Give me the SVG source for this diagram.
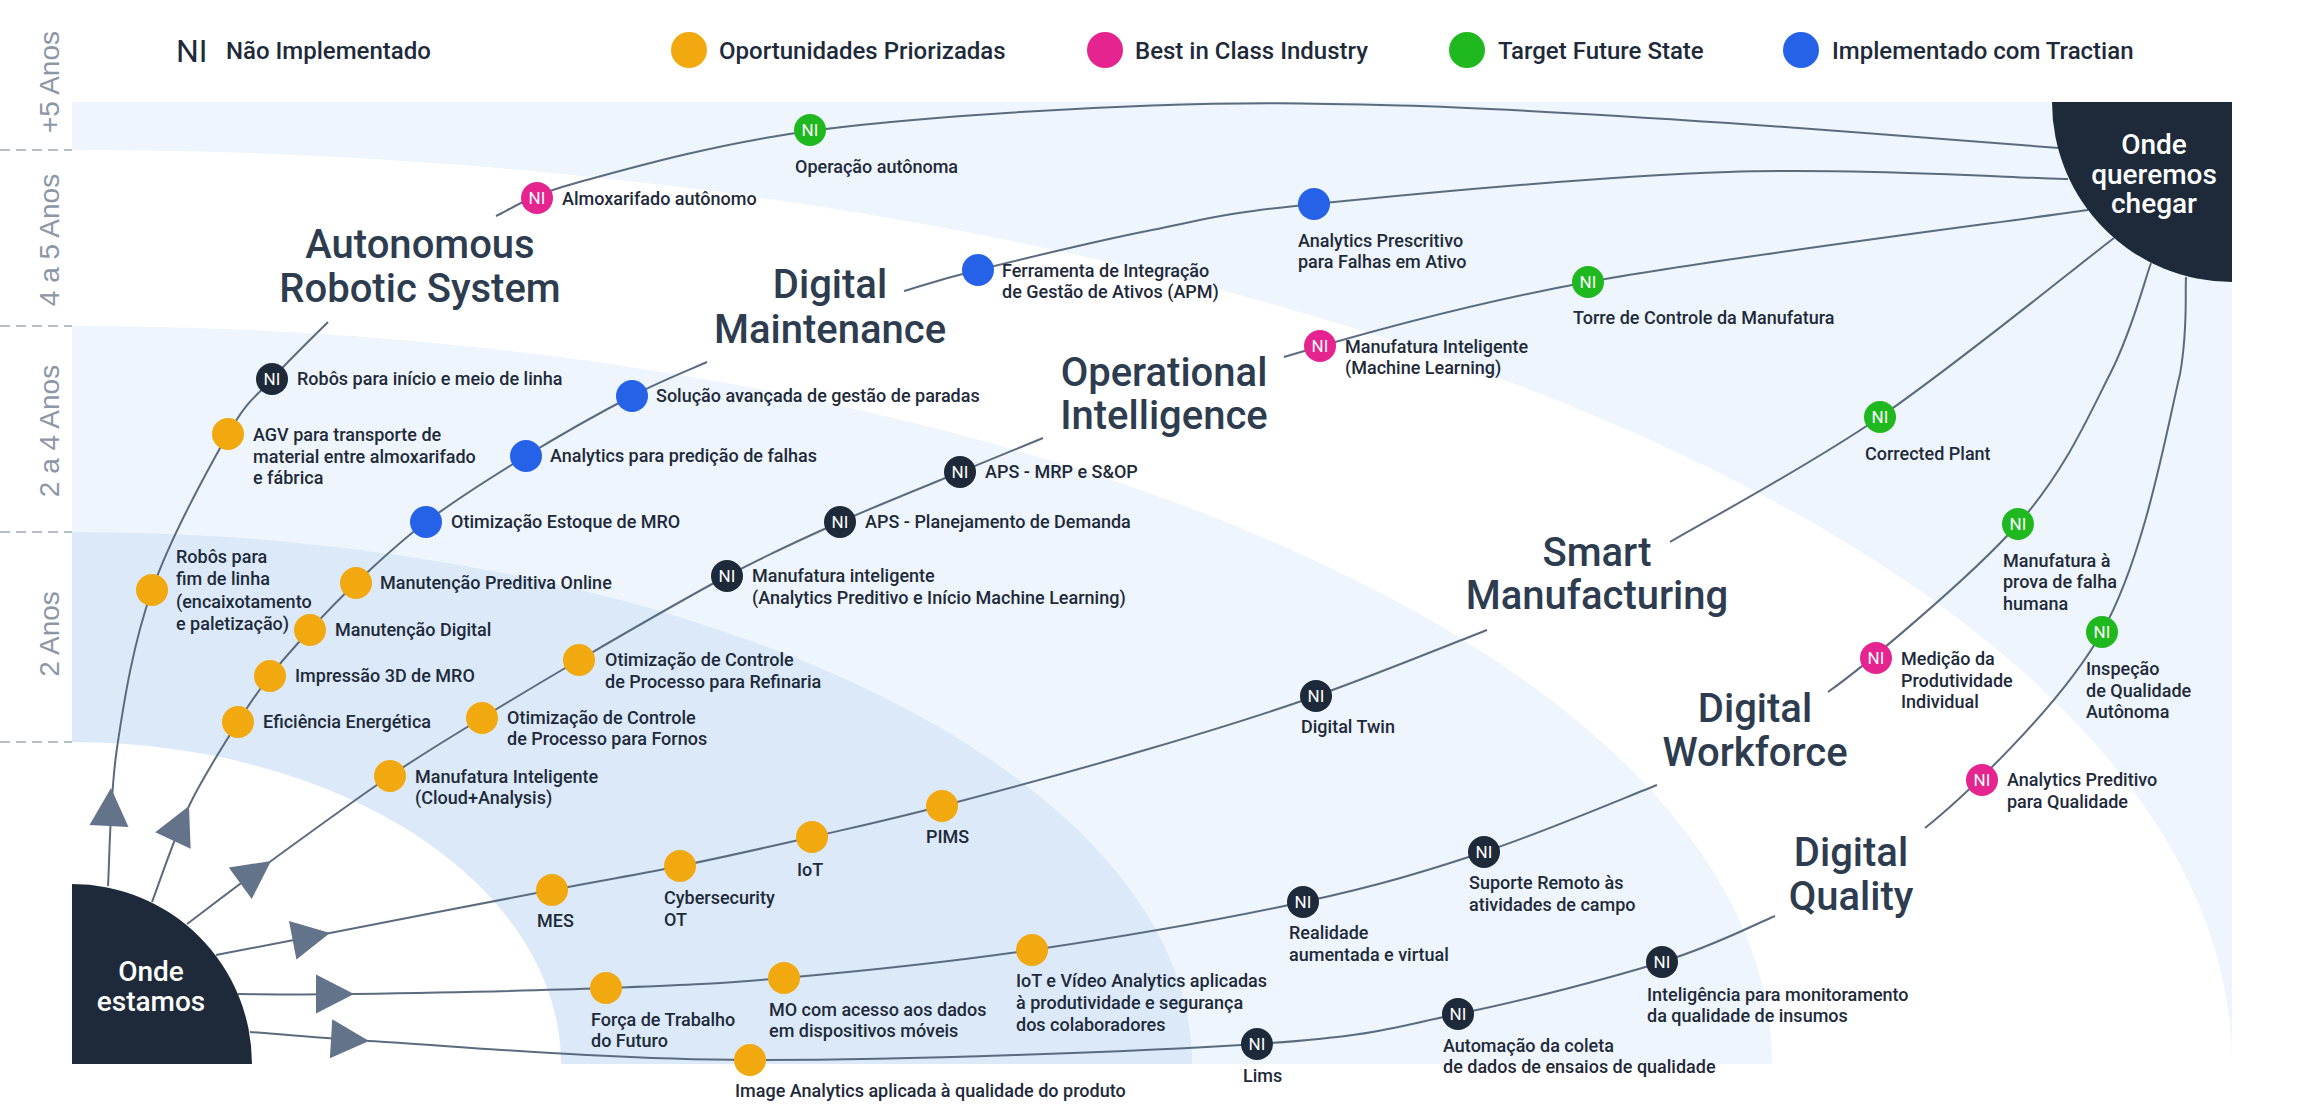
<svg xmlns="http://www.w3.org/2000/svg" width="2304" height="1120" viewBox="0 0 2304 1120">
<style>
text{font-family:Roboto,"Noto Sans","DejaVu Sans",sans-serif}
.lbl{font-size:18px;font-weight:500;fill:#1e2a3a}
.ttl{font-size:40px;font-weight:500;fill:#2e3c4f;text-anchor:middle}
.ni{font-size:17px;font-weight:400;fill:#ffffff;text-anchor:middle}
.leg{font-size:24px;font-weight:500;fill:#1e2a3a}
.axis{font-family:"Liberation Sans",Arial,sans-serif;font-size:28px;fill:#8c97a6;text-anchor:middle}
.pan{font-size:28px;font-weight:500;fill:#ffffff;text-anchor:middle}
.conn{fill:none;stroke:#5b6b7e;stroke-width:2}
.dash{stroke:#a3abb6;stroke-width:1.5;stroke-dasharray:10 6}
.o{fill:#f2a80f}.p{fill:#e5248f}.g{fill:#1fb81e}.b{fill:#2662e8}.d{fill:#1e2a3a}
.arw{fill:#63738a}
</style>
<defs>
<clipPath id="area"><rect x="72" y="102" width="2160" height="962"/></clipPath>
<path id="arw" d="M0,0 L-38,-19.5 L-38,19.5 Z"/>
</defs>
<rect width="2304" height="1120" fill="#ffffff"/>
<g id="background" clip-path="url(#area)">
<rect x="72" y="102" width="2160" height="962" fill="#eef5fc"/>
<ellipse cx="72" cy="1064" rx="2160" ry="914" fill="#ffffff"/>
<ellipse cx="72" cy="1064" rx="1700" ry="738" fill="#eef5fc"/>
<ellipse cx="72" cy="1064" rx="1120" ry="532" fill="#dbe9f9"/>
<ellipse cx="72" cy="1064" rx="489" ry="322" fill="#ffffff"/>
</g>
<g id="axis">
<line class="dash" x1="0" y1="150" x2="72" y2="150"/>
<line class="dash" x1="0" y1="326" x2="72" y2="326"/>
<line class="dash" x1="0" y1="532" x2="72" y2="532"/>
<line class="dash" x1="0" y1="742" x2="72" y2="742"/>
<text class="axis" transform="translate(59,82) rotate(-90)">+5 Anos</text>
<text class="axis" transform="translate(59,240) rotate(-90)">4 a 5 Anos</text>
<text class="axis" transform="translate(59,431) rotate(-90)">2 a 4 Anos</text>
<text class="axis" transform="translate(59,634) rotate(-90)">2 Anos</text>
</g>
<g id="legend">
<text x="176" y="62" style="font-size:32px;font-weight:400;fill:#1e2a3a">NI</text>
<text class="leg" x="226" y="59">Não Implementado</text>
<circle class="o" cx="689" cy="50" r="18"/>
<text class="leg" x="719" y="59">Oportunidades Priorizadas</text>
<circle class="p" cx="1105" cy="50" r="18"/>
<text class="leg" x="1135" y="59">Best in Class Industry</text>
<circle class="g" cx="1467" cy="50" r="18"/>
<text class="leg" x="1498" y="59">Target Future State</text>
<circle class="b" cx="1801" cy="50" r="18"/>
<text class="leg" x="1832" y="59">Implementado com Tractian</text>
</g>
<g id="connectors">
<path class="conn" d="M108,886 C109.5,863 109.7,797.3 117,748 C124.3,698.7 133.5,642.3 152,590 C170.5,537.7 208,469.2 228,434 C248,398.8 255.3,397.7 272,379 C288.7,360.3 318.7,331.5 328,322"/>
<path class="conn" d="M496,216 C509.3,210.5 523.7,197.3 576,183 C628.3,168.7 714,144 810,131 C906,118 1053.7,109 1152,105.5 C1250.3,102 1304,103 1400,105.5 C1496,108 1618.2,115.7 1728,123 C1837.8,130.3 2003.8,143.8 2059,148"/>
<path class="conn" d="M152,902 C158.2,886 174.7,836 189,806 C203.3,776 224.5,743.7 238,722 C251.5,700.3 258,691.3 270,676 C282,660.7 295.7,645.5 310,630 C324.3,614.5 336.7,601 356,583 C375.3,565 397.7,543.2 426,522 C454.3,500.8 491.7,477 526,456 C560.3,435 601.8,411.7 632,396 C662.2,380.3 694.5,367.7 707,362"/>
<path class="conn" d="M904,291 C916.3,287.5 936.7,280.2 978,270 C1019.3,259.8 1096,241 1152,230 C1208,219 1218,213.7 1314,204 C1410,194.3 1602.3,176.2 1728,172 C1853.7,167.8 2011.3,177.8 2068,179"/>
<path class="conn" d="M187,924 C201,913.5 237.2,885.7 271,861 C304.8,836.3 354.8,799.8 390,776 C425.2,752.2 450.5,737.3 482,718 C513.5,698.7 538.2,683.7 579,660 C619.8,636.3 683.5,599 727,576 C770.5,553 801.2,539.3 840,522 C878.8,504.7 926.2,486 960,472 C993.8,458 1029.2,443.7 1043,438"/>
<path class="conn" d="M1284,357 C1334,342 1454,306.5 1588,282 C1722,257.5 2004.7,222 2088,210"/>
<path class="conn" d="M216,955 C235,951.3 274,943.8 330,933 C386,922.2 493.7,901.2 552,890 C610.3,878.8 636.7,874.8 680,866 C723.3,857.2 768.3,847 812,837 C855.7,827 885.3,820.8 942,806 C998.7,791.2 1089.7,766.3 1152,748 C1214.3,729.7 1260.2,715.7 1316,696 C1371.8,676.3 1458.5,641 1487,630"/>
<path class="conn" d="M1670,542 C1705,521.2 1806,467.7 1880,417 C1954,366.3 2075,267.8 2114,238"/>
<path class="conn" d="M238,994 C257.3,994 292.7,995 354,994 C415.3,993 534.3,990.7 606,988 C677.7,985.3 713,984.3 784,978 C855,971.7 945.5,962.7 1032,950 C1118.5,937.3 1227.7,918.3 1303,902 C1378.3,885.7 1425,871.5 1484,852 C1543,832.5 1628.2,796.2 1657,785"/>
<path class="conn" d="M1828,692 C1862,668 1971,577 2018,524 C2065,471 2087.8,417.5 2110,374 C2132.2,330.5 2144.2,281.5 2151,263"/>
<path class="conn" d="M250,1032 C290,1035 330,1039 369,1041 C452.3,1045.7 602,1059.5 750,1060 C898,1060.5 1139,1051.7 1257,1044 C1375,1036.3 1390.5,1027.7 1458,1014 C1525.5,1000.3 1609.2,978.3 1662,962 C1714.8,945.7 1756.2,923.7 1775,916"/>
<path class="conn" d="M1925,828 C1960,800 2059.5,707.7 2102,632 C2144.5,556.3 2166,433.2 2180,374 C2188,330 2185,293.2 2186,277"/>
<use href="#arw" class="arw" transform="translate(111,788) rotate(-87)"/>
<use href="#arw" class="arw" transform="translate(189,806) rotate(-65)"/>
<use href="#arw" class="arw" transform="translate(271,861) rotate(-36)"/>
<use href="#arw" class="arw" transform="translate(330,933) rotate(-11)"/>
<use href="#arw" class="arw" transform="translate(354,994) rotate(0)"/>
<use href="#arw" class="arw" transform="translate(369,1041) rotate(3.5)"/>
</g>
<g id="onde-estamos">
<path class="d" d="M72,884 A180,180 0 0 1 252,1064 L72,1064 Z"/>
<text class="pan" x="151" y="981">Onde</text>
<text class="pan" x="151" y="1011">estamos</text>
</g>
<g id="onde-queremos-chegar">
<path class="d" d="M2052,102 A180,180 0 0 0 2232,282 L2232,102 Z"/>
<text class="pan" x="2154" y="154">Onde</text>
<text class="pan" x="2154" y="184">queremos</text>
<text class="pan" x="2154" y="213">chegar</text>
</g>
<g id="t-robotic"><text class="ttl" x="420" y="258">Autonomous</text><text class="ttl" x="420" y="302">Robotic System</text></g>
<g id="t-maintenance"><text class="ttl" x="830" y="298">Digital</text><text class="ttl" x="830" y="343">Maintenance</text></g>
<g id="t-operational"><text class="ttl" x="1164" y="386">Operational</text><text class="ttl" x="1164" y="429">Intelligence</text></g>
<g id="t-smart"><text class="ttl" x="1597" y="566">Smart</text><text class="ttl" x="1597" y="609">Manufacturing</text></g>
<g id="t-workforce"><text class="ttl" x="1755" y="722">Digital</text><text class="ttl" x="1755" y="766">Workforce</text></g>
<g id="t-quality"><text class="ttl" x="1851" y="866">Digital</text><text class="ttl" x="1851" y="910">Quality</text></g>

<g id="n-robos-fim"><circle class="o" cx="152" cy="590" r="16"/><text class="lbl" x="176" y="563">Robôs para<tspan x="176" y="585">fim de linha</tspan><tspan x="176" y="608">(encaixotamento</tspan><tspan x="176" y="630">e paletização)</tspan></text></g>
<g id="n-agv"><circle class="o" cx="228" cy="434" r="16"/><text class="lbl" x="253" y="441">AGV para transporte de<tspan x="253" y="463">material entre almoxarifado</tspan><tspan x="253" y="484">e fábrica</tspan></text></g>
<g id="n-robos-inicio"><circle class="d" cx="272" cy="379" r="16"/><text class="ni" x="272" y="385">NI</text><text class="lbl" x="297" y="385">Robôs para início e meio de linha</text></g>
<g id="n-almox"><circle class="p" cx="537" cy="198" r="16"/><text class="ni" x="537" y="204">NI</text><text class="lbl" x="562" y="205">Almoxarifado autônomo</text></g>
<g id="n-op-autonoma"><circle class="g" cx="810" cy="130" r="16"/><text class="ni" x="810" y="136">NI</text><text class="lbl" x="795" y="173">Operação autônoma</text></g>

<g id="n-eficiencia"><circle class="o" cx="238" cy="722" r="16"/><text class="lbl" x="263" y="728">Eficiência Energética</text></g>
<g id="n-impressao"><circle class="o" cx="270" cy="676" r="16"/><text class="lbl" x="295" y="682">Impressão 3D de MRO</text></g>
<g id="n-manut-digital"><circle class="o" cx="310" cy="630" r="16"/><text class="lbl" x="335" y="636">Manutenção Digital</text></g>
<g id="n-manut-preditiva"><circle class="o" cx="356" cy="583" r="16"/><text class="lbl" x="380" y="589">Manutenção Preditiva Online</text></g>
<g id="n-estoque"><circle class="b" cx="426" cy="522" r="16"/><text class="lbl" x="451" y="528">Otimização Estoque de MRO</text></g>
<g id="n-analytics-pred"><circle class="b" cx="526" cy="456" r="16"/><text class="lbl" x="550" y="462">Analytics para predição de falhas</text></g>
<g id="n-paradas"><circle class="b" cx="632" cy="396" r="16"/><text class="lbl" x="656" y="402">Solução avançada de gestão de paradas</text></g>
<g id="n-apm"><circle class="b" cx="978" cy="270" r="16"/><text class="lbl" x="1002" y="277">Ferramenta de Integração<tspan x="1002" y="298">de Gestão de Ativos (APM)</tspan></text></g>
<g id="n-prescritivo"><circle class="b" cx="1314" cy="204" r="16"/><text class="lbl" x="1298" y="247">Analytics Prescritivo<tspan x="1298" y="268">para Falhas em Ativo</tspan></text></g>

<g id="n-cloud"><circle class="o" cx="390" cy="776" r="16"/><text class="lbl" x="415" y="783">Manufatura Inteligente<tspan x="415" y="804">(Cloud+Analysis)</tspan></text></g>
<g id="n-fornos"><circle class="o" cx="482" cy="718" r="16"/><text class="lbl" x="507" y="724">Otimização de Controle<tspan x="507" y="745">de Processo para Fornos</tspan></text></g>
<g id="n-refinaria"><circle class="o" cx="579" cy="660" r="16"/><text class="lbl" x="605" y="666">Otimização de Controle<tspan x="605" y="688">de Processo para Refinaria</tspan></text></g>
<g id="n-manuf-intel"><circle class="d" cx="727" cy="576" r="16"/><text class="ni" x="727" y="582">NI</text><text class="lbl" x="752" y="582">Manufatura inteligente<tspan x="752" y="604">(Analytics Preditivo e Início Machine Learning)</tspan></text></g>
<g id="n-aps-dem"><circle class="d" cx="840" cy="522" r="16"/><text class="ni" x="840" y="528">NI</text><text class="lbl" x="865" y="528">APS - Planejamento de Demanda</text></g>
<g id="n-aps-mrp"><circle class="d" cx="960" cy="472" r="16"/><text class="ni" x="960" y="478">NI</text><text class="lbl" x="985" y="478">APS - MRP e S&amp;OP</text></g>
<g id="n-ml"><circle class="p" cx="1320" cy="346" r="16"/><text class="ni" x="1320" y="352">NI</text><text class="lbl" x="1345" y="353">Manufatura Inteligente<tspan x="1345" y="374">(Machine Learning)</tspan></text></g>
<g id="n-torre"><circle class="g" cx="1588" cy="282" r="16"/><text class="ni" x="1588" y="288">NI</text><text class="lbl" x="1573" y="324">Torre de Controle da Manufatura</text></g>

<g id="n-mes"><circle class="o" cx="552" cy="890" r="16"/><text class="lbl" x="537" y="927">MES</text></g>
<g id="n-cyber"><circle class="o" cx="680" cy="866" r="16"/><text class="lbl" x="664" y="904">Cybersecurity<tspan x="664" y="926">OT</tspan></text></g>
<g id="n-iot"><circle class="o" cx="812" cy="837" r="16"/><text class="lbl" x="797" y="876">IoT</text></g>
<g id="n-pims"><circle class="o" cx="942" cy="806" r="16"/><text class="lbl" x="926" y="843">PIMS</text></g>
<g id="n-twin"><circle class="d" cx="1316" cy="696" r="16"/><text class="ni" x="1316" y="702">NI</text><text class="lbl" x="1301" y="733">Digital Twin</text></g>
<g id="n-corrected"><circle class="g" cx="1880" cy="417" r="16"/><text class="ni" x="1880" y="423">NI</text><text class="lbl" x="1865" y="460">Corrected Plant</text></g>

<g id="n-forca"><circle class="o" cx="606" cy="988" r="16"/><text class="lbl" x="591" y="1026">Força de Trabalho<tspan x="591" y="1047">do Futuro</tspan></text></g>
<g id="n-mo"><circle class="o" cx="784" cy="978" r="16"/><text class="lbl" x="769" y="1016">MO com acesso aos dados<tspan x="769" y="1037">em dispositivos móveis</tspan></text></g>
<g id="n-video"><circle class="o" cx="1032" cy="950" r="16"/><text class="lbl" x="1016" y="987">IoT e Vídeo Analytics aplicadas<tspan x="1016" y="1009">à produtividade e segurança</tspan><tspan x="1016" y="1031">dos colaboradores</tspan></text></g>
<g id="n-realidade"><circle class="d" cx="1303" cy="902" r="16"/><text class="ni" x="1303" y="908">NI</text><text class="lbl" x="1289" y="939">Realidade<tspan x="1289" y="961">aumentada e virtual</tspan></text></g>
<g id="n-suporte"><circle class="d" cx="1484" cy="852" r="16"/><text class="ni" x="1484" y="858">NI</text><text class="lbl" x="1469" y="889">Suporte Remoto às<tspan x="1469" y="911">atividades de campo</tspan></text></g>
<g id="n-medicao"><circle class="p" cx="1876" cy="658" r="16"/><text class="ni" x="1876" y="664">NI</text><text class="lbl" x="1901" y="665">Medição da<tspan x="1901" y="687">Produtividade</tspan><tspan x="1901" y="708">Individual</tspan></text></g>
<g id="n-prova"><circle class="g" cx="2018" cy="524" r="16"/><text class="ni" x="2018" y="530">NI</text><text class="lbl" x="2003" y="567">Manufatura à<tspan x="2003" y="588">prova de falha</tspan><tspan x="2003" y="610">humana</tspan></text></g>

<g id="n-image"><circle class="o" cx="750" cy="1060" r="16"/><text class="lbl" x="735" y="1097">Image Analytics aplicada à qualidade do produto</text></g>
<g id="n-lims"><circle class="d" cx="1257" cy="1044" r="16"/><text class="ni" x="1257" y="1050">NI</text><text class="lbl" x="1243" y="1082">Lims</text></g>
<g id="n-automacao"><circle class="d" cx="1458" cy="1014" r="16"/><text class="ni" x="1458" y="1020">NI</text><text class="lbl" x="1443" y="1052">Automação da coleta<tspan x="1443" y="1073">de dados de ensaios de qualidade</tspan></text></g>
<g id="n-insumos"><circle class="d" cx="1662" cy="962" r="16"/><text class="ni" x="1662" y="968">NI</text><text class="lbl" x="1647" y="1001">Inteligência para monitoramento<tspan x="1647" y="1022">da qualidade de insumos</tspan></text></g>
<g id="n-aq"><circle class="p" cx="1982" cy="780" r="16"/><text class="ni" x="1982" y="786">NI</text><text class="lbl" x="2007" y="786">Analytics Preditivo<tspan x="2007" y="808">para Qualidade</tspan></text></g>
<g id="n-inspecao"><circle class="g" cx="2102" cy="632" r="16"/><text class="ni" x="2102" y="638">NI</text><text class="lbl" x="2086" y="675">Inspeção<tspan x="2086" y="697">de Qualidade</tspan><tspan x="2086" y="718">Autônoma</tspan></text></g>
</svg>
